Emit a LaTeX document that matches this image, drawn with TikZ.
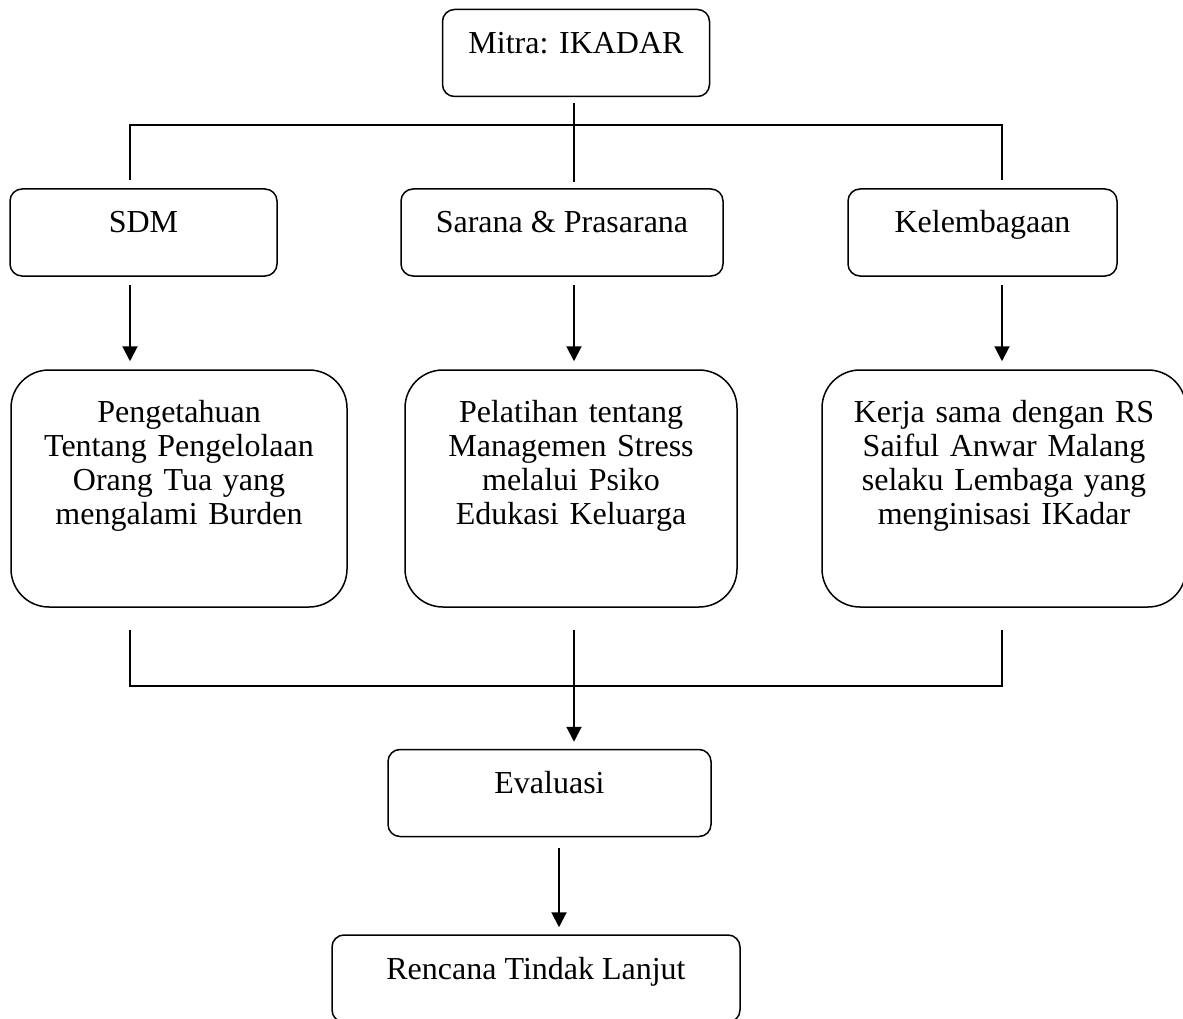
\documentclass[tikz,border=0pt]{standalone}
\usepackage{fontspec}
\setmainfont{Liberation Serif}
\usetikzlibrary{arrows.meta}

\begin{document}
\begin{tikzpicture}[x=1pt,y=-1pt,
  font=\fontsize{32}{34}\selectfont,
  kotak/.style={draw,line width=1.5pt,rounded corners=12pt,inner sep=0pt,
    text height=44pt,text depth=43pt},
  kotakbesar/.style={draw,line width=1.5pt,rounded corners=38pt,inner sep=0pt,
    align=center,text height=52pt,text depth=185pt},
  garis/.style={line width=1.5pt},
  panah/.style={line width=2pt,-{Triangle[length=15pt,width=15pt]}}]

  \useasboundingbox (0,0) rectangle (1183,1019);
  \clip (0,0) rectangle (1183,1019);

  \node[kotak,minimum width=267pt] (mitra) at (576,53) {Mitra: IKADAR};

  \node[kotak,minimum width=267pt] (sdm) at (143.5,232.5) {SDM};
  \node[kotak,minimum width=322pt] (sarana) at (562,232.5) {Sarana \& Prasarana};
  \node[kotak,minimum width=269pt] (lembaga) at (982.5,232.5) {Kelembagaan};

  \node[kotakbesar,minimum width=336pt,text width=320pt] (tahu) at (179,488.5)
    {Pengetahuan\\ Tentang Pengelolaan\\ Orang Tua yang\\ mengalami Burden};
  \node[kotakbesar,minimum width=332pt,text width=316pt] (latih) at (571,488.5)
    {Pelatihan tentang\\ Managemen Stress\\ melalui Psiko\\ Edukasi Keluarga};
  \node[kotakbesar,minimum width=364pt,text width=340pt] (kerja) at (1004,488.5)
    {Kerja sama dengan RS\\ Saiful Anwar Malang\\ selaku Lembaga yang\\ menginisasi IKadar};

  \node[kotak,minimum width=323pt] (eval) at (549.5,793) {Evaluasi};
  \node[kotak,minimum width=408pt] (rtl) at (536,978.5) {Rencana Tindak Lanjut};

  % garis atas
  \coordinate (m1) at (574,103);
  \coordinate (m2) at (574,182);
  \coordinate (a1) at (130,125);
  \coordinate (a2) at (1002,125);
  \draw[garis] (m1) -- (m2);
  \draw[garis] ([yshift=8pt]sdm.north -| a1) -- (a1) -- (a2) -- ([yshift=8pt]lembaga.north -| a2);

  \draw[panah] ([yshift=-8pt]sdm.south -| a1) -- ([yshift=8pt]tahu.north -| a1);
  \draw[panah] ([yshift=-8pt]sarana.south -| m1) -- ([yshift=8pt]latih.north -| m1);
  \draw[panah] ([yshift=-8pt]lembaga.south -| a2) -- ([yshift=8pt]kerja.north -| a2);

  % garis bawah
  \coordinate (b1) at (130,686);
  \coordinate (b2) at (1002,686);
  \coordinate (e1) at (559,848);
  \draw[garis] ([yshift=-22pt]tahu.south -| b1) -- (b1) -- (b2) -- ([yshift=-22pt]kerja.south -| b2);
  \draw[panah] ([yshift=-22pt]latih.south -| m1) -- ([yshift=7pt]eval.north -| m1);
  \draw[panah] (e1) -- ([yshift=7pt]rtl.north -| e1);

\end{tikzpicture}
\end{document}
